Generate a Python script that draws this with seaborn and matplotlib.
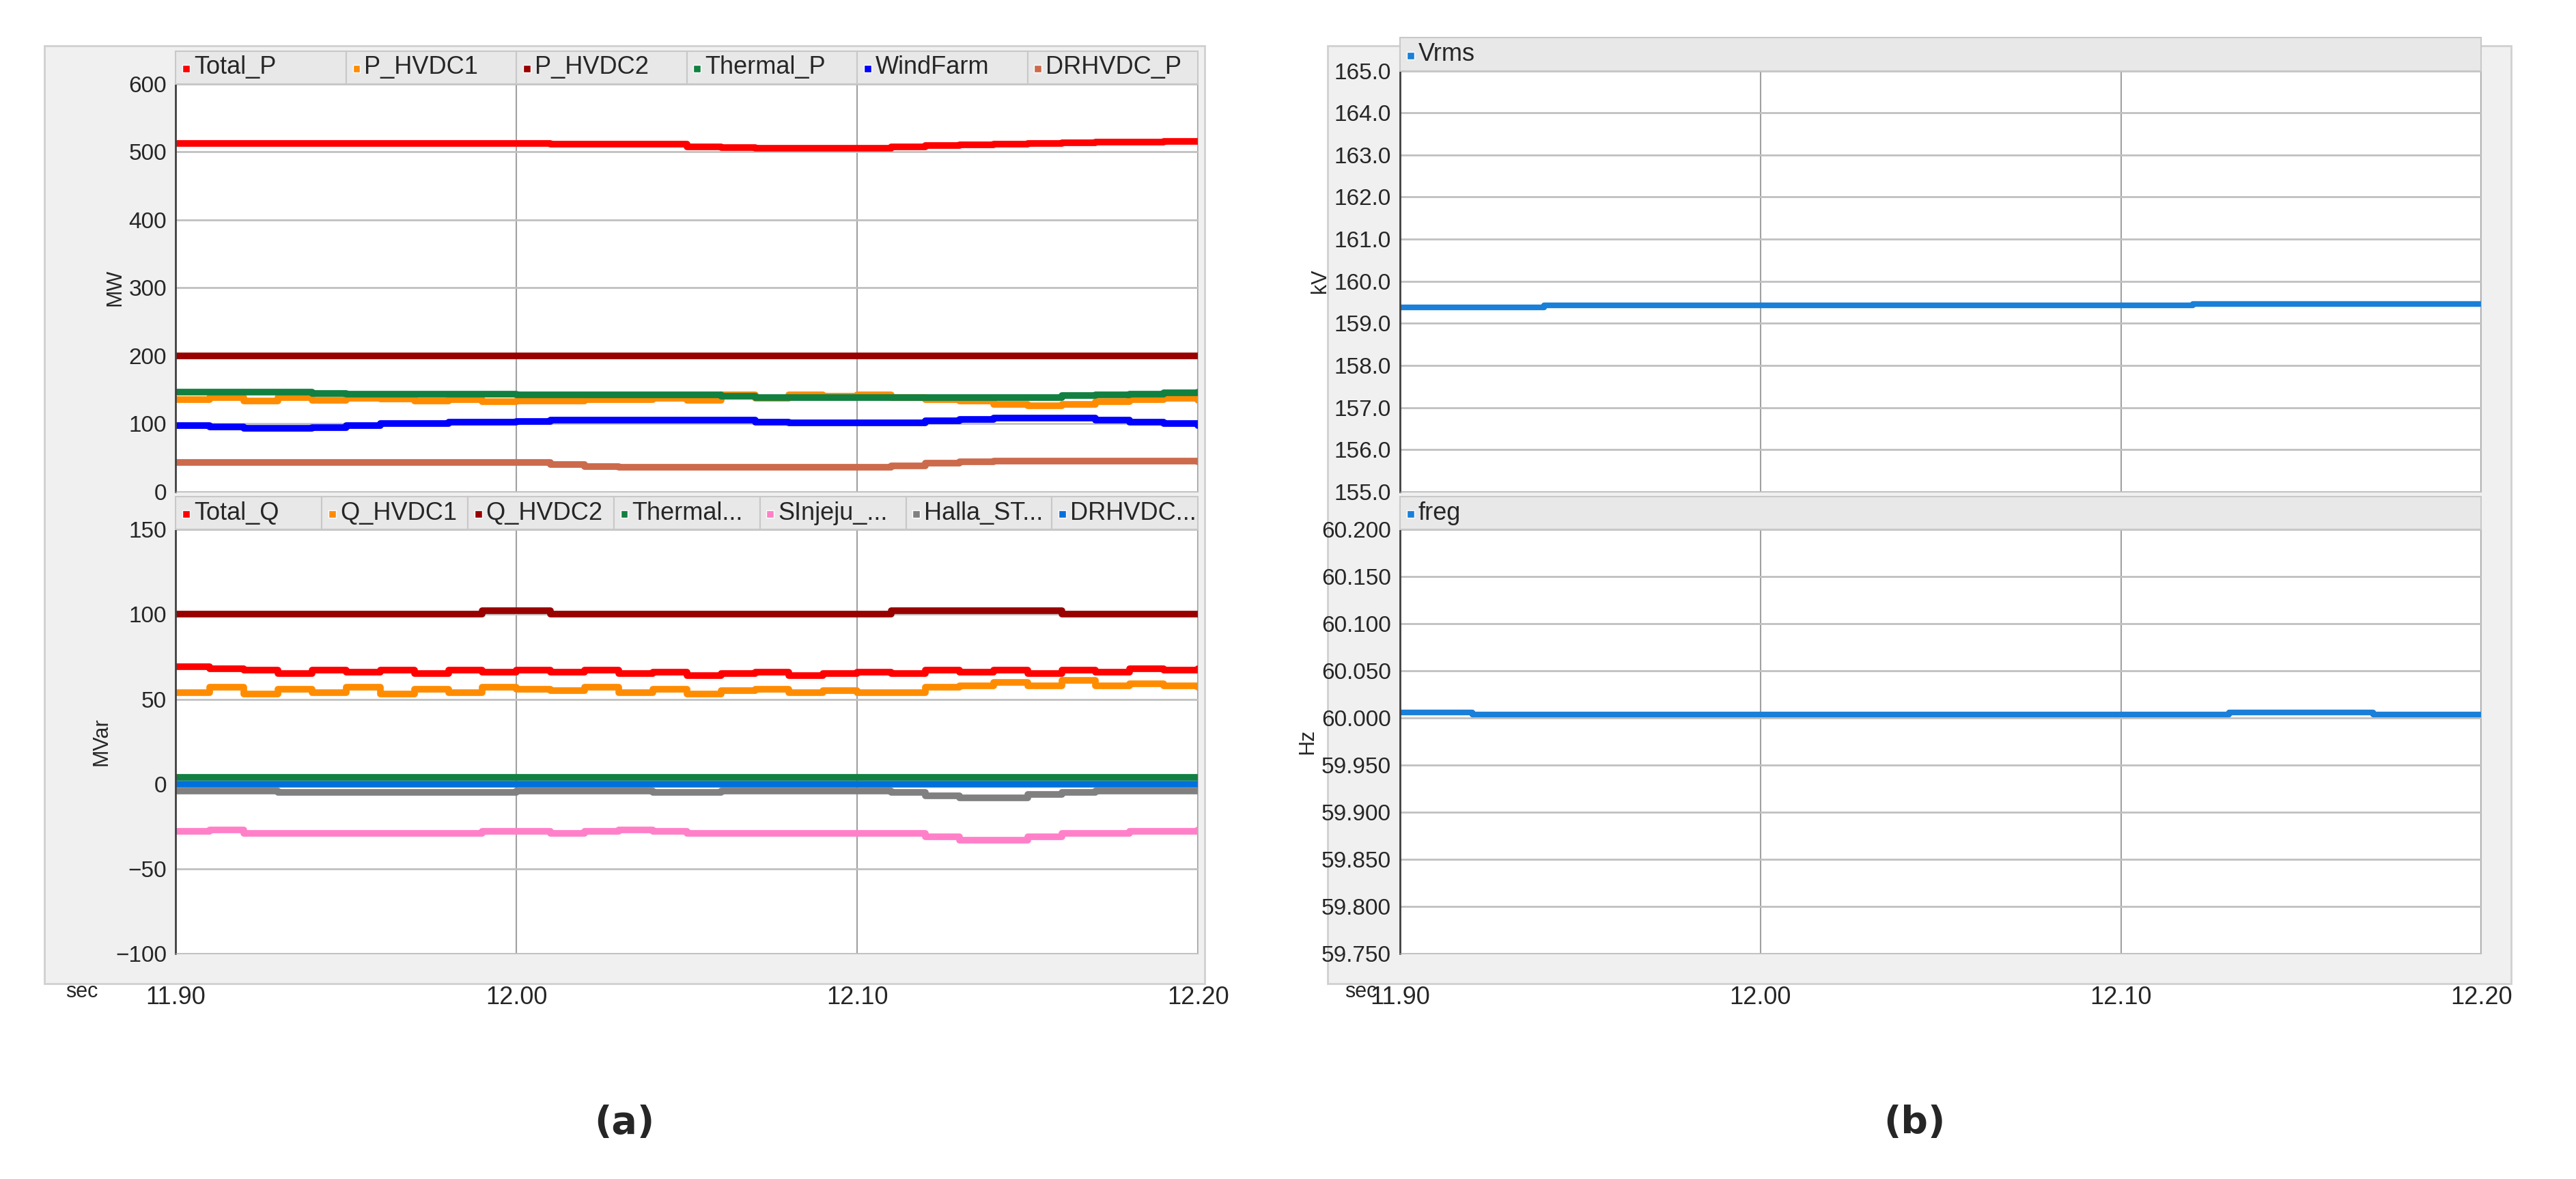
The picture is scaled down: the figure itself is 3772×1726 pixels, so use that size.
import numpy as np
import matplotlib
matplotlib.use("Agg")
import matplotlib.pyplot as plt
from matplotlib.patches import Rectangle
import seaborn as sns

# time axis (sec), 0.01 s steps
t = [round(11.90 + 0.01 * i, 2) for i in range(31)]

# active power (MW)
total_p = [512] * 11 + [511, 511, 511, 511, 507, 506, 505, 505, 505, 505, 507, 509, 510, 511, 512, 513, 514, 514, 515, 515]
p_hvdc1 = [135, 138, 133, 138, 134, 137, 136, 133, 135, 132, 133, 133, 135, 135, 137, 134, 142, 137, 142, 140, 142, 138, 135, 133, 128, 126, 128, 132, 135, 137, 134]
p_hvdc2 = [200] * 31
thermal_p = [147, 147, 147, 147, 144, 143, 143, 143, 143, 143, 142, 142, 142, 142, 142, 142, 140, 138, 138, 138, 138, 138, 138, 138, 138, 138, 141, 142, 143, 145, 146]
windfarm = [97, 95, 93, 93, 94, 97, 100, 100, 102, 102, 103, 105, 105, 105, 105, 105, 105, 102, 101, 101, 101, 101, 104, 106, 108, 108, 108, 105, 102, 100, 97]
drhvdc_p = [43] * 11 + [40, 37, 36, 36, 36, 36, 36, 36, 36, 36, 38, 42, 44, 45, 45, 45, 45, 45, 45, 44]

# reactive power (MVar)
total_q = [69, 68, 67, 65, 67, 66, 67, 65, 67, 66, 67, 66, 67, 65, 66, 64, 65, 66, 64, 65, 66, 65, 67, 66, 67, 65, 67, 66, 68, 67, 68]
q_hvdc1 = [54, 57, 53, 56, 54, 57, 53, 56, 54, 57, 56, 55, 57, 54, 56, 53, 55, 56, 54, 55, 54, 54, 57, 58, 60, 58, 61, 58, 59, 58, 57]
q_hvdc2 = [100] * 9 + [102, 102] + [100] * 10 + [102, 102, 102, 102, 102] + [100] * 5
thermal_q = [4] * 31
sinjeju = [-28, -27, -29, -29, -29, -29, -29, -29, -29, -28, -28, -29, -28, -27, -28, -29, -29, -29, -29, -29, -29, -29, -31, -33, -33, -31, -29, -29, -28, -28, -27]
halla_st = [-4, -4, -4, -5, -5, -5, -5, -5, -5, -5, -4, -4, -4, -4, -5, -5, -4, -4, -4, -4, -4, -5, -7, -8, -8, -6, -5, -4, -4, -4, -4]
drhvdc_q = [0] * 31

# voltage and frequency
vrms = [159.38] * 4 + [159.42] * 18 + [159.46] * 9
freq = [60.006, 60.006] + [60.004] * 21 + [60.006] * 4 + [60.004] * 4

top_series = [("Total_P", total_p, "#ff0000"), ("P_HVDC1", p_hvdc1, "#ff8c00"),
              ("P_HVDC2", p_hvdc2, "#990000"), ("Thermal_P", thermal_p, "#118040"),
              ("WindFarm", windfarm, "#0000ff"), ("DRHVDC_P", drhvdc_p, "#cc6a4c")]
bot_series = [("Total_Q", total_q, "#ff0000"), ("Q_HVDC1", q_hvdc1, "#ff8c00"),
              ("Q_HVDC2", q_hvdc2, "#990000"), ("Thermal...", thermal_q, "#118040"),
              ("SInjeju_...", sinjeju, "#ff80c8"), ("Halla_ST...", halla_st, "#808080"),
              ("DRHVDC...", drhvdc_q, "#0070dd")]

sns.set_style("white")
plt.rcParams['font.family'] = ['Liberation Sans', 'DejaVu Sans']

fig = plt.figure(figsize=(37.73, 17.26), dpi=100)
W, H = 1568.0, 717.0


def fx(v):
    return v / W


def fy(v):
    return 1 - v / H


# panel backgrounds
for x0, x1 in [(27, 733), (808, 1528)]:
    fig.patches.append(Rectangle((fx(x0), fy(598)), fx(x1 - x0), (598 - 28) / H,
                                 transform=fig.transFigure, facecolor="#f0f0f0",
                                 edgecolor="#d0d0d0", lw=2, zorder=-10))


def make_ax(x0, x1, ytop, ybot):
    ax = fig.add_axes([fx(x0), fy(ybot), fx(x1 - x0), (ybot - ytop) / H])
    ax.set_facecolor("white")
    ax.set_xlim(11.90, 12.20)
    ax.set_xticks([11.90, 12.00, 12.10, 12.20])
    ax.tick_params(axis="both", labelsize=26, length=6, width=2, color="#404040")
    for s in ax.spines.values():
        s.set_color("#c0c0c0")
    ax.spines["left"].set_color("#404040")
    ax.spines["left"].set_linewidth(2)
    return ax


def header(x0, x1, ytop, names, colors):
    n = len(names)
    cw = (x1 - x0) / n
    for i, (nm, c) in enumerate(zip(names, colors)):
        cx = x0 + i * cw
        fig.patches.append(Rectangle((fx(cx), fy(ytop)), fx(cw), 20 / H,
                                     transform=fig.transFigure, facecolor="#e8e8e8",
                                     edgecolor="#c8c8c8", lw=1.5, zorder=1))
        fig.patches.append(Rectangle((fx(cx + 4), fy(ytop - 7)), fx(4.5), 4.5 / H,
                                     transform=fig.transFigure, facecolor=c, zorder=2))
        fig.text(fx(cx + 11), fy(ytop - 10), nm, fontsize=26, va="center", ha="left",
                 zorder=3)


def draw(ax, series):
    for name, vals, col in series:
        sns.lineplot(x=t, y=vals, ax=ax, color=col, lw=7, drawstyle="steps-post",
                     legend=False)


# (a) top
ax1 = make_ax(107, 729, 51, 299)
draw(ax1, top_series)
ax1.set_ylim(0, 600)
ax1.set_yticks(range(0, 601, 100))
ax1.set_ylabel("MW", fontsize=22)
ax1.set_xticklabels([])
ax1.tick_params(axis="x", length=0)
header(107, 729, 51, [s[0] for s in top_series], [s[2] for s in top_series])

# (a) bottom
ax2 = make_ax(107, 729, 322, 580)
draw(ax2, bot_series)
ax2.set_ylim(-100, 150)
ax2.set_yticks(range(-100, 151, 50))
ax2.set_ylabel("MVar", fontsize=22)
ax2.set_xticklabels(["11.90", "12.00", "12.10", "12.20"])
ax2.tick_params(axis="x", pad=34, length=0)
header(107, 729, 322, [s[0] for s in bot_series], [s[2] for s in bot_series])

# (b) top
ax3 = make_ax(852, 1510, 43, 299)
sns.lineplot(x=t, y=vrms, ax=ax3, color="#1a7fd8", lw=6, drawstyle="steps-post")
ax3.set_ylim(155, 165)
ax3.set_yticks(np.arange(155, 165.01, 1.0))
ax3.yaxis.set_major_formatter(matplotlib.ticker.FormatStrFormatter("%.1f"))
ax3.set_ylabel("kV", fontsize=22)
ax3.set_xticklabels([])
ax3.tick_params(axis="x", length=0)
header(852, 1510, 43, ["Vrms"], ["#1a7fd8"])

# (b) bottom
ax4 = make_ax(852, 1510, 322, 580)
sns.lineplot(x=t, y=freq, ax=ax4, color="#1a7fd8", lw=6, drawstyle="steps-post")
ax4.set_ylim(59.75, 60.2)
ax4.set_yticks(np.arange(59.75, 60.2001, 0.05))
ax4.yaxis.set_major_formatter(matplotlib.ticker.FormatStrFormatter("%.3f"))
ax4.set_ylabel("Hz", fontsize=22)
ax4.set_xticklabels(["11.90", "12.00", "12.10", "12.20"])
ax4.tick_params(axis="x", pad=34, length=0)
header(852, 1510, 322, ["freg"], ["#1a7fd8"])

for ax in (ax1, ax2, ax3, ax4):
    ax.tick_params(axis="y", labelsize=24)
    ax.grid(True, axis="y", color="#c0c0c0", lw=2)
    ax.grid(True, axis="x", color="#a0a0a0", lw=1.5)
    ax.set_axisbelow(True)

for xs in (50, 828):
    fig.text(fx(xs), fy(603), "sec", fontsize=22, ha="center", va="center")

fig.text(fx(380), fy(683), "(a)", fontsize=40, fontweight="bold", ha="center",
         va="center", family="DejaVu Sans")
fig.text(fx(1165), fy(683), "(b)", fontsize=40, fontweight="bold", ha="center",
         va="center", family="DejaVu Sans")

fig.savefig("out.png", dpi=100, facecolor="white")
